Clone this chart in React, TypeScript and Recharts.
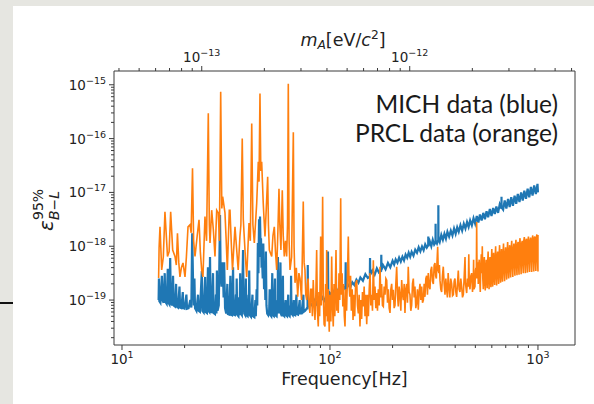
import { LineChart, Line, XAxis, YAxis } from "recharts";

// [frequency (Hz), log10 of epsilon_{B-L}]
const mich: [number, number][] = [
  [15.0, -19.0], [15.05, -18.6], [15.12, -19.02], [15.3, -19.05], [15.55, -18.55], [15.65, -19.0],
  [15.85, -19.05], [16.05, -18.5], [16.15, -19.03], [16.4, -19.07], [16.6, -18.42], [16.72, -19.05],
  [16.9, -19.08], [17.05, -18.22], [17.18, -19.05], [17.4, -19.1], [17.6, -18.55], [17.72, -19.1],
  [18.0, -19.12], [18.2, -18.7], [18.32, -19.12], [18.6, -19.14], [18.9, -18.75], [19.02, -19.14],
  [19.3, -19.15], [19.6, -18.85], [19.72, -19.15], [20.0, -19.16], [20.4, -18.9], [20.55, -19.16],
  [20.9, -19.15], [21.3, -19.0], [21.55, -19.14], [21.75, -17.76], [21.95, -18.6], [22.15, -19.1],
  [22.3, -18.6], [22.45, -19.15], [22.8, -19.2], [23.2, -18.9], [23.35, -19.2], [23.7, -19.22],
  [24.2, -18.46], [24.35, -19.2], [24.7, -19.23], [25.1, -18.57], [25.25, -19.22], [25.6, -19.24],
  [25.9, -18.39], [26.05, -19.2], [26.3, -19.22], [26.5, -18.2], [26.7, -19.18], [27.0, -19.24],
  [27.4, -18.5], [27.55, -19.24], [28.0, -19.26], [28.3, -18.9], [28.45, -19.25], [28.6, -18.45],
  [28.8, -19.2], [29.2, -19.1], [29.6, -17.42], [29.8, -18.5], [30.1, -18.75], [30.5, -18.3],
  [30.8, -18.95], [31.0, -18.3], [31.3, -19.15], [31.7, -19.25], [32.1, -18.7], [32.3, -19.26],
  [32.8, -19.27], [33.2, -18.55], [33.4, -19.27], [33.8, -19.28], [34.2, -18.39], [34.4, -19.27],
  [34.9, -19.28], [35.3, -18.9], [35.45, -19.28], [35.6, -18.6], [35.8, -19.27], [36.3, -19.3],
  [36.6, -18.95], [36.8, -19.28], [37.0, -18.5], [37.25, -19.25], [37.7, -19.28], [38.2, -18.07],
  [38.4, -18.9], [38.7, -19.25], [39.1, -19.28], [39.4, -18.6], [39.65, -19.28], [40.2, -19.3],
  [40.6, -18.9], [40.75, -19.25], [40.9, -18.45], [41.15, -19.28], [41.7, -19.31], [42.4, -18.9],
  [42.6, -19.3], [43.3, -19.32], [43.8, -19.0], [44.0, -19.3], [44.4, -18.8], [44.7, -19.1],
  [45.0, -17.94], [45.3, -18.5], [45.6, -17.5], [45.85, -18.2], [46.1, -17.45], [46.35, -18.0],
  [46.6, -17.85], [46.9, -18.4], [47.2, -18.3], [47.5, -18.6], [47.8, -17.95], [48.2, -18.8],
  [48.6, -18.5], [48.9, -19.0], [49.2, -18.1], [49.5, -19.1], [49.9, -19.25], [50.5, -19.28],
  [51.0, -19.2], [51.3, -18.8], [51.55, -19.27], [52.2, -19.3], [52.8, -18.5], [53.0, -19.28],
  [53.7, -19.3], [54.4, -18.6], [54.6, -19.28], [55.4, -19.3], [55.9, -19.0], [56.05, -19.25],
  [56.2, -18.2], [56.45, -19.2], [57.0, -18.9], [57.2, -19.25], [57.8, -18.3], [58.05, -19.25],
  [58.7, -19.3], [59.4, -18.55], [59.6, -19.28], [60.3, -19.3], [61.2, -19.0], [61.45, -19.28],
  [62.2, -19.3], [63.0, -18.9], [63.25, -19.28], [64.0, -19.3], [64.6, -19.1], [64.8, -19.25],
  [65.0, -18.55], [65.3, -19.25], [66.2, -19.28], [67.0, -19.0], [67.25, -19.27], [68.0, -19.28],
  [69.0, -18.9], [69.25, -19.26], [70.2, -19.27], [71.5, -19.0], [71.75, -19.25], [73.0, -19.25],
  [74.5, -18.9], [74.75, -19.22], [76.0, -19.2], [77.5, -19.15], [78.0, -19.15], [78.2, -18.35],
  [78.45, -19.12], [79.0, -19.1], [80, -19.05], [82, -19.1], [84, -19.0], [86, -19.07],
  [88, -18.97], [90, -19.04], [92, -18.95], [94, -19.01], [96, -18.92], [97.5, -18.96],
  [97.8, -18.1], [98.2, -18.98], [100, -18.87], [102.5, -18.92], [105, -18.82], [107.5, -18.88],
  [110, -18.79], [113, -18.84], [116, -18.75], [118.6, -18.8], [119, -18.3], [119.4, -18.79],
  [122, -18.71], [125, -18.77], [128, -18.67], [131, -18.72], [134, -18.62], [137, -18.68],
  [140, -18.58], [144, -18.64], [148, -18.52], [152, -18.59], [155.5, -18.56], [155.8, -18.22],
  [156.2, -18.53], [160, -18.45], [164, -18.53], [168, -18.41], [172, -18.49], [176.2, -18.46],
  [176.5, -18.16], [176.9, -18.44], [180, -18.35], [185, -18.43], [190, -18.31], [195, -18.39],
  [200, -18.27], [203.5, -18.34], [207, -18.245], [211, -18.305], [215, -18.21], [219, -18.285],
  [223, -18.195], [227, -18.265], [231, -18.155], [235, -18.215], [239, -18.12], [243, -18.195],
  [247, -18.105], [252, -18.175], [257, -18.065], [262, -18.12], [267, -18.02], [272, -18.095],
  [277, -18.005], [282, -18.075], [287, -17.965], [292, -18.025], [296.6, -17.98], [297, -17.82],
  [297.4, -18.0], [302, -17.91], [307, -18.0], [312, -17.88], [317, -17.97], [321.7, -17.93],
  [322, -17.58], [322.3, -17.9], [327, -17.95], [331.7, -17.88], [332, -17.24], [332.3, -17.86],
  [337, -17.92], [343, -17.79], [349, -17.88], [355, -17.77], [361, -17.86], [367, -17.73],
  [374, -17.82], [381, -17.71], [388, -17.8], [395, -17.67], [402, -17.77], [409, -17.65],
  [416, -17.73], [424, -17.61], [432, -17.71], [440, -17.58], [448, -17.67], [456, -17.55],
  [464, -17.64], [472, -17.52], [481, -17.61], [490, -17.48], [499, -17.58], [508, -17.44],
  [517, -17.56], [526, -17.41], [536, -17.52], [546, -17.38], [556, -17.5], [566, -17.35],
  [576, -17.46], [587, -17.31], [598, -17.44], [609, -17.29], [620, -17.4], [631, -17.26],
  [643, -17.38], [655, -17.22], [667.6, -17.3], [668, -17.08], [668.4, -17.28], [680, -17.32],
  [692, -17.15], [705, -17.3], [718, -17.12], [731, -17.27], [744, -17.09], [758, -17.25],
  [772, -17.06], [786, -17.21], [800, -17.03], [815, -17.18], [830, -17.0], [845, -17.15],
  [860, -16.97], [876, -17.12], [892, -16.93], [908, -17.09], [925, -16.9], [942, -17.06],
  [959, -16.87], [977, -17.03], [995, -16.84], [1000, -17.0],
];

const prcl: [number, number][] = [
  [15.0, -18.59], [15.08, -18.03], [15.23, -17.64], [15.52, -18.44], [15.8, -18.2], [16.09, -17.36],
  [16.55, -18.19], [16.85, -18.1], [17.14, -17.36], [17.53, -18.07], [17.98, -18.19], [18.25, -18.35],
  [18.48, -17.76], [18.75, -18.3], [19.0, -18.57], [19.3, -18.4], [19.65, -18.31], [20.09, -18.57],
  [20.4, -18.2], [20.77, -17.64], [21.23, -17.6], [21.5, -17.75], [21.83, -16.55], [22.1, -17.9],
  [22.44, -18.19], [23.0, -17.8], [23.46, -17.51], [23.8, -18.1], [24.16, -18.44], [24.5, -18.57],
  [25.06, -17.45], [25.5, -17.9], [26.0, -15.53], [26.3, -17.6], [26.5, -17.94], [26.99, -17.33],
  [27.5, -17.7], [28.0, -18.19], [28.53, -17.33], [29.04, -17.38], [29.4, -17.9], [29.82, -15.13],
  [30.2, -17.3], [30.49, -17.08], [31.27, -17.38], [31.7, -17.9], [32.1, -18.44], [32.8, -17.33],
  [33.06, -17.33], [33.5, -17.9], [33.99, -18.44], [34.94, -17.64], [35.5, -18.0], [36.2, -18.44],
  [36.9, -17.82], [37.3, -17.6], [37.86, -16.0], [38.3, -17.5], [38.7, -17.82], [39.2, -18.2],
  [39.77, -18.57], [40.8, -17.57], [41.4, -17.9], [42.05, -15.72], [42.6, -17.6], [43.28, -17.94],
  [44.43, -17.2], [45.22, -16.43], [45.6, -16.8], [46.07, -15.16], [46.5, -16.6], [46.95, -16.43],
  [47.77, -17.2], [48.2, -17.5], [48.7, -17.82], [49.4, -17.3], [50.17, -16.71], [50.6, -17.6],
  [51.1, -18.07], [52.46, -18.19], [53.2, -17.8], [54.0, -17.64], [54.7, -18.1], [55.44, -18.44],
  [56.2, -17.7], [56.86, -16.93], [57.4, -17.6], [58.1, -18.07], [58.98, -16.96], [59.6, -17.8],
  [60.3, -18.19], [61.1, -17.9], [61.9, -18.19], [62.5, -17.6], [63.04, -14.98], [63.6, -17.9],
  [64.24, -18.44], [65.4, -18.2], [66.65, -15.88], [67.2, -18.0], [67.9, -18.68], [68.9, -18.4],
  [69.97, -18.94], [70.9, -18.5], [71.8, -18.6], [73.0, -19.0], [74.4, -17.17], [75.1, -18.3],
  [75.8, -18.44], [76.5, -18.9], [77.3, -19.0], [78.0, -18.7], [78.5, -18.6], [79.3, -19.1],
  [80.1, -19.24], [80.8, -18.8], [81.5, -18.8], [82.3, -19.3], [83.1, -18.63], [83.9, -19.1],
  [84.7, -19.37], [85.5, -18.9], [86.3, -18.07], [87.0, -19.2], [87.85, -19.49], [88.5, -18.85],
  [89.2, -19.3], [90.2, -17.82], [90.8, -19.1], [91.5, -18.6], [92.2, -17.08], [92.9, -18.9],
  [93.7, -19.45], [94.6, -19.49], [95.3, -18.7], [96.0, -19.3], [96.4, -18.07], [97.2, -19.4],
  [98.2, -18.8], [99.2, -19.59], [100.1, -18.9], [101.0, -19.4], [101.9, -18.19], [102.8, -19.1],
  [103.7, -19.49], [104.6, -18.7], [105.5, -19.3], [106.9, -18.07], [107.8, -19.2], [108.7, -18.8],
  [109.6, -19.24], [110.5, -18.5], [111.5, -19.0], [112.6, -17.11], [113.5, -18.9], [114.4, -18.5],
  [115.3, -19.12], [116.3, -18.7], [117.2, -19.3], [118.1, -19.49], [119.1, -18.8], [120.2, -19.2],
  [121.3, -18.6], [122.5, -17.82], [123.5, -18.7], [124.5, -18.94], [125.6, -18.55], [126.7, -19.2],
  [127.9, -18.8], [129.1, -19.37], [130.3, -18.9], [131.5, -19.3], [132.8, -18.7], [134.4, -18.63],
  [135.6, -19.1], [136.9, -19.25], [138.1, -18.9], [139.4, -19.49], [140.7, -19.0], [142.0, -19.35],
  [143.3, -18.85], [144.6, -19.12], [146.0, -18.75], [147.4, -19.3], [148.8, -18.9], [150.2, -19.45],
  [151.6, -18.9], [153.0, -19.3], [154.4, -18.8], [155.8, -18.5], [157.2, -19.1], [158.7, -18.9],
  [160.1, -19.2], [161.6, -18.26], [163.1, -19.0], [164.6, -18.75], [166.1, -19.15], [167.7, -18.87],
  [169.2, -19.2], [170.8, -18.8], [172.4, -19.1], [174.0, -18.38], [175.6, -18.95], [177.2, -18.7],
  [178.8, -19.1], [180.5, -19.12], [182.2, -18.75], [184.0, -18.9], [185.7, -18.6], [187.4, -18.63],
  [189.1, -19.05], [190.9, -18.8], [192.6, -19.15], [194.4, -19.24], [196.2, -18.8], [198.0, -18.7],
  [199.8, -19.0], [201.6, -18.81], [203.5, -19.15], [205.4, -19.1], [207.3, -18.7], [209.3, -18.38],
  [211.2, -18.9], [213.0, -19.12], [215.0, -18.75], [217.0, -18.9], [219.1, -19.2], [221.2, -18.63],
  [223.3, -18.9], [225.3, -19.0], [227.4, -18.7], [229.4, -19.24], [231.5, -18.8], [233.7, -18.7],
  [235.8, -19.05], [237.9, -18.38], [240.1, -18.85], [242.4, -18.9], [244.7, -19.2], [247.0, -19.1],
  [249.3, -18.7], [251.6, -18.6], [253.9, -18.95], [256.2, -18.75], [258.6, -19.15], [261.0, -19.05],
  [263.4, -18.8], [265.8, -19.18], [268.3, -18.85], [270.9, -18.7], [273.4, -19.0], [276.0, -18.75],
  [278.6, -19.05], [281.2, -19.0], [283.7, -18.7], [286.3, -18.94], [289.0, -18.6], [291.6, -18.55],
  [294.2, -18.9], [296.9, -18.5], [299.8, -18.75], [302.6, -18.8], [305.4, -18.45], [308.3, -18.38],
  [311.1, -18.65], [314.0, -18.7], [316.9, -18.35], [319.8, -18.31], [322.2, -18.55], [324.6, -18.6],
  [327.0, -18.3], [329.5, -18.01], [331.6, -18.45], [333.8, -18.5], [335.9, -18.35], [338.0, -18.63],
  [341.1, -18.8], [344.3, -18.85], [347.4, -18.55], [350.6, -18.38], [354.0, -18.7], [357.3, -18.9],
  [360.6, -18.6], [364.0, -18.81], [367.0, -18.95], [370.0, -18.5], [373.5, -18.75], [377.0, -18.95],
  [380.8, -18.6], [384.7, -18.7], [388.3, -18.92], [392.0, -18.9], [395.5, -18.65], [399.0, -18.6],
  [402.7, -18.85], [406.5, -18.94], [410.2, -18.7], [414.0, -18.45], [417.8, -18.8], [421.7, -18.85],
  [425.7, -18.6], [429.7, -18.75], [433.7, -18.95], [437.8, -18.9], [441.5, -18.6], [446.0, -18.2],
  [448.5, -18.7], [454.2, -18.87], [458.3, -18.6], [462.5, -18.75], [465.0, -18.15], [467.5, -18.7],
  [471.2, -18.8], [475.6, -18.55], [480.1, -18.5], [484.5, -18.85], [489.0, -18.6], [490.5, -18.25],
  [492.0, -18.8], [497.9, -18.75], [500.5, -18.45], [503.0, -18.4], [505.2, -18.6], [507.4, -17.55],
  [509.5, -18.5], [511.5, -18.6], [514.0, -18.3], [516.4, -18.7], [519, -18.35], [522, -18.25],
  [525, -18.6], [528, -18.85], [531, -18.4], [534, -18.15], [537, -18.5], [540, -18.0],
  [543, -18.6], [546, -18.8], [549, -18.35], [552, -18.2], [555, -18.65], [558, -18.82],
  [561, -18.4], [564, -18.25], [567, -18.6], [570, -18.78], [573, -18.3], [576, -18.1],
  [579, -18.55], [582, -18.8], [585, -18.35], [588, -18.2], [591, -18.6], [594, -18.76],
  [597, -18.3], [600, -18.05], [603, -18.5], [606, -18.75], [609, -18.3], [612, -18.12],
  [615, -18.55], [619, -18.72], [622, -18.25], [626, -18.0], [629, -18.5], [633, -18.73],
  [636, -18.2], [640, -18.1], [643, -18.5], [647, -18.7], [650, -18.2], [654, -17.98],
  [657, -18.45], [661, -18.68], [664, -18.2], [668, -18.05], [671, -18.5], [675, -18.66],
  [679, -18.15], [683, -17.95], [687, -18.45], [691, -18.65], [695, -18.15], [699, -18.02],
  [703, -18.4], [707, -18.62], [711, -18.1], [715, -17.92], [719, -18.4], [723, -18.6],
  [727, -18.1], [731, -17.98], [735, -18.35], [739, -18.58], [743, -18.05], [748, -17.9],
  [752, -18.35], [757, -18.57], [761, -18.05], [766, -17.95], [770, -18.3], [775, -18.55],
  [779, -18.0], [784, -17.88], [788, -18.3], [793, -18.54], [797, -18.0], [802, -17.92],
  [806, -18.3], [811, -18.53], [815, -17.95], [820, -17.85], [825, -18.25], [830, -18.52],
  [835, -17.95], [840, -17.9], [845, -18.3], [850, -18.5], [855, -17.9], [860, -17.83],
  [865, -18.25], [870, -18.5], [875, -17.9], [880, -17.86], [885, -18.25], [890, -18.49],
  [895, -17.9], [900, -17.82], [905, -18.2], [911, -18.48], [916, -17.9], [922, -17.84],
  [927, -18.2], [933, -18.48], [938, -17.88], [944, -17.8], [950, -18.2], [955, -18.47],
  [960, -17.85], [966, -17.82], [971, -18.2], [977, -18.46], [982, -17.85], [988, -17.78],
  [994, -18.2], [1000, -18.47], [1000, -17.79],
];

const freqTicks = [10, 20, 30, 40, 50, 60, 70, 80, 90, 100, 200, 300, 400, 500, 600, 700, 800, 900, 1000];
const epsTicks = [
  2e-20, 3e-20, 4e-20, 5e-20, 6e-20, 7e-20, 8e-20, 9e-20,
  1e-19, 2e-19, 3e-19, 4e-19, 5e-19, 6e-19, 7e-19, 8e-19, 9e-19,
  1e-18, 2e-18, 3e-18, 4e-18, 5e-18, 6e-18, 7e-18, 8e-18, 9e-18,
  1e-17, 2e-17, 3e-17, 4e-17, 5e-17, 6e-17, 7e-17, 8e-17, 9e-17,
  1e-16, 2e-16, 3e-16, 4e-16, 5e-16, 6e-16, 7e-16, 8e-16, 9e-16, 1e-15,
];
// dark photon mass ticks for the top axis (eV/c^2)
const massTicks = [
  4e-14, 5e-14, 6e-14, 7e-14, 8e-14, 9e-14,
  1e-13, 2e-13, 3e-13, 4e-13, 5e-13, 6e-13, 7e-13, 8e-13, 9e-13,
  1e-12, 2e-12, 3e-12, 4e-12, 5e-12, 6e-12,
];
const H_EV = 4.135667696e-15; // eV per Hz

const FREQ_DOMAIN = [9.153, 1507];
const EPS_DOMAIN = [1.462e-20, 1.803e-15];

const BLUE = "#1f77b4";
const ORANGE = "#ff7f0e";
const FRAME = "#3a3a3a";
const TEXT = "#222";
const MPL_FONT = "DejaVu Sans, sans-serif";

const michData = mich.map(([f, lg]) => ({ f, eps: 10 ** lg }));
const prclData = prcl.map(([f, lg]) => ({ f, eps: 10 ** lg }));

const expOf = (v: number) => Math.round(Math.log10(v));
const isMajor = (v: number) => Math.abs(Math.log10(v) - expOf(v)) < 1e-6;
const supText = (e: number) => (e < 0 ? "\u2212" + Math.abs(e) : String(e));

function PowLabel({ x, y, v, anchor }: { x: number; y: number; v: number; anchor: "middle" | "end" }) {
  return (
    <text x={x} y={y} textAnchor={anchor} fontFamily={MPL_FONT} fontSize={13.5} fill={TEXT}>
      10
      <tspan dy={-6} fontSize={9.5}>{supText(expOf(v))}</tspan>
    </text>
  );
}

function FreqTick({ x, y, payload }: any) {
  const major = isMajor(payload.value);
  return (
    <g>
      <line x1={x} x2={x} y1={y} y2={y + (major ? 5 : 3)} stroke={FRAME} />
      {major && <PowLabel x={x} y={y + 19} v={payload.value} anchor="middle" />}
    </g>
  );
}

function MassTick({ x, y, payload }: any) {
  const m = payload.value * H_EV;
  const major = isMajor(m);
  return (
    <g>
      <line x1={x} x2={x} y1={y} y2={y - (major ? 5 : 3)} stroke={FRAME} />
      {major && <PowLabel x={x} y={y - 9} v={m} anchor="middle" />}
    </g>
  );
}

function EpsTick({ x, y, payload }: any) {
  const major = isMajor(payload.value);
  return (
    <g>
      <line x1={x} x2={x - (major ? 5 : 3)} y1={y} y2={y} stroke={FRAME} />
      {major && <PowLabel x={x - 8} y={y + 5} v={payload.value} anchor="end" />}
    </g>
  );
}

export default function App() {
  return (
    <div
      style={{
        position: "fixed",
        left: 0,
        top: 0,
        width: 594,
        height: 404,
        overflow: "hidden",
        background: "#e6e6e1",
      }}
    >
      <div style={{ position: "absolute", left: 13, top: 6, right: 0, bottom: 0, background: "#fff" }} />
      <div style={{ position: "absolute", left: 0, top: 302, width: 13, height: 2, background: "#111" }} />
      <div style={{ position: "absolute", left: 0, top: 0 }}>
        <LineChart width={594} height={404} margin={{ top: 41, right: 14, bottom: 29, left: 74 }}>
          <XAxis
            xAxisId="f"
            dataKey="f"
            type="number"
            scale="log"
            domain={FREQ_DOMAIN}
            allowDataOverflow
            ticks={freqTicks}
            interval={0}
            tick={<FreqTick />}
            tickLine={false}
            tickSize={0}
            tickMargin={0}
            height={30}
            axisLine={{ stroke: FRAME }}
          />
          <XAxis
            xAxisId="m"
            dataKey="f"
            orientation="top"
            type="number"
            scale="log"
            domain={FREQ_DOMAIN}
            allowDataOverflow
            ticks={massTicks.map((m) => m / H_EV)}
            interval={0}
            tick={<MassTick />}
            tickLine={false}
            tickSize={0}
            tickMargin={0}
            height={30}
            axisLine={{ stroke: FRAME }}
          />
          <YAxis
            yAxisId="eps"
            type="number"
            scale="log"
            domain={EPS_DOMAIN}
            allowDataOverflow
            ticks={epsTicks}
            interval={0}
            tick={<EpsTick />}
            tickLine={false}
            tickSize={0}
            tickMargin={0}
            width={40}
            axisLine={{ stroke: FRAME }}
          />
          <YAxis
            yAxisId="frame"
            orientation="right"
            type="number"
            domain={[0, 1]}
            tick={false}
            tickLine={false}
            width={5}
            axisLine={{ stroke: FRAME }}
          />
          {/* invisible copy so the secondary (mass) axis gets a scale */}
          <Line
            data={michData}
            dataKey="eps"
            xAxisId="m"
            yAxisId="eps"
            stroke="none"
            dot={false}
            activeDot={false}
            isAnimationActive={false}
          />
          <Line
            data={michData}
            dataKey="eps"
            xAxisId="f"
            yAxisId="eps"
            type="linear"
            stroke={BLUE}
            strokeWidth={2.2}
            dot={false}
            isAnimationActive={false}
          />
          <Line
            data={prclData}
            dataKey="eps"
            xAxisId="f"
            yAxisId="eps"
            type="linear"
            stroke={ORANGE}
            strokeWidth={1.6}
            dot={false}
            isAnimationActive={false}
          />
        </LineChart>
      </div>
      <svg width={594} height={404} style={{ position: "absolute", left: 0, top: 0, pointerEvents: "none" }}>
        <text x={343} y={46} textAnchor="middle" fontFamily={MPL_FONT} fontSize={17.5} fill={TEXT}>
          <tspan fontStyle="italic">m</tspan>
          <tspan fontStyle="italic" fontSize={12.25} dy={3}>A</tspan>
          <tspan dy={-3}>[eV/</tspan>
          <tspan fontStyle="italic">c</tspan>
          <tspan fontSize={12.25} dy={-7}>2</tspan>
          <tspan dy={7}>]</tspan>
        </text>
        <text x={344.5} y={385} textAnchor="middle" fontFamily={MPL_FONT} fontSize={17.5} fill={TEXT}>
          Frequency[Hz]
        </text>
        <g transform="translate(53 231) rotate(-90)" fontFamily={MPL_FONT} fill={TEXT}>
          <text x={0} y={0} fontSize={20} fontStyle="italic">ε</text>
          <text x={11} y={-10} fontSize={14}>95%</text>
          <text x={11} y={6} fontSize={14} fontStyle="italic">B−L</text>
        </g>
        <g fontFamily="Lato, sans-serif" fontSize={24.5} fill="#1a1a1a" textAnchor="end">
          <text x={558} y={113}>MICH data (blue)</text>
          <text x={558} y={141.5}>PRCL data (orange)</text>
        </g>
      </svg>
    </div>
  );
}
